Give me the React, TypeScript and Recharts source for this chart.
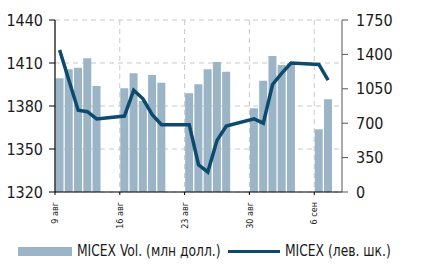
import { ComposedChart, Bar, Line, XAxis, YAxis, CartesianGrid } from "recharts";

const days = [
  "9 авг", "10 авг", "11 авг", "12 авг", "13 авг", "14 авг", "15 авг",
  "16 авг", "17 авг", "18 авг", "19 авг", "20 авг", "21 авг", "22 авг",
  "23 авг", "24 авг", "25 авг", "26 авг", "27 авг", "28 авг", "29 авг",
  "30 авг", "31 авг", "1 сен", "2 сен", "3 сен", "4 сен", "5 сен",
  "6 сен", "7 сен", "8 сен",
];

// объём торгов, млн долл. (правая шкала)
const volume = [
  1157, 1248, 1265, 1360, 1078, null, null,
  1055, 1208, 926, 1190, 1112, null, null,
  1004, 1096, 1248, 1323, 1224, null, null,
  852, 1133, 1384, 1292, 1309, null, null,
  638, 943, null,
];

// индекс ММВБ (левая шкала)
const micex = [
  1419, 1398, 1377, 1376, 1371, null, null,
  1373, 1391, 1385, 1374, 1367, null, null,
  1367, 1339, 1334, 1356, 1366, null, null,
  1371, 1368, 1395, 1403, 1410, null, null,
  1409, 1398, null,
];

const xTicks = ["9 авг", "16 авг", "23 авг", "30 авг", "6 сен"];
const leftTicks = [1320, 1350, 1380, 1410, 1440];
const rightTicks = [0, 350, 700, 1050, 1400, 1750];

const data = days.map((d, i) => ({ d, vol: volume[i], micex: micex[i] }));

const FONT = "'Liberation Sans Narrow', 'DejaVu Sans Condensed', 'Roboto Condensed', sans-serif";
const BAR = "#9bb5c7";
const LINE = "#0c4a6e";

function DayTick(props: any) {
  const { x, y, payload } = props;
  const half = payload && payload.offset != null ? payload.offset : 4.6;
  return (
    <g transform={`translate(${x - half},${y})`}>
      <line x1={0} x2={0} y1={0} y2={3} stroke="#000" strokeWidth={1} />
      <text
        transform="translate(0,10) rotate(-90)"
        textAnchor="end"
        dy="0.35em"
        fontSize={9}
        fontFamily={FONT}
        fill="#222"
      >
        {payload.value}
      </text>
    </g>
  );
}

const legendText: any = {
  position: "absolute",
  top: 243,
  fontFamily: FONT,
  fontSize: 16,
  lineHeight: "16px",
  color: "#1a1a1a",
  whiteSpace: "nowrap",
  transform: "scaleX(0.855)",
  transformOrigin: "left center",
};

export default function App() {
  return (
    <div style={{ position: "absolute", left: 0, top: 0, width: 434, height: 264, background: "#fff" }}>
      <ComposedChart
        width={434}
        height={264}
        data={data}
        margin={{ top: 20, right: 0, bottom: 37, left: 0 }}
        barCategoryGap={0.5}
      >
        <CartesianGrid
          yAxisId="left"
          stroke="#c8c8c8"
          strokeDasharray="5 4"
          verticalCoordinatesGenerator={({ xAxis, offset }: any) =>
            xTicks.slice(1).map((t) =>
              xAxis && typeof xAxis.scale === "function"
                ? xAxis.scale(t)
                : offset.left + (days.indexOf(t) * offset.width) / days.length
            )
          }
        />
        <XAxis
          dataKey="d"
          ticks={xTicks}
          interval={0}
          tickSize={0}
          tickMargin={0}
          tickLine={false}
          height={35}
          axisLine={{ stroke: "#000", strokeWidth: 1.2 }}
          tick={<DayTick />}
        />
        <YAxis
          yAxisId="left"
          orientation="left"
          width={55}
          domain={[1320, 1440]}
          ticks={leftTicks}
          interval={0}
          tickSize={6}
          tickMargin={6}
          axisLine={{ stroke: "#000", strokeWidth: 1.2 }}
          tickLine={{ stroke: "#000" }}
          tick={{ fontSize: 16, fontFamily: FONT, fill: "#1a1a1a" }}
        />
        <YAxis
          yAxisId="right"
          orientation="right"
          width={92}
          domain={[0, 1750]}
          ticks={rightTicks}
          interval={0}
          tickSize={6}
          tickMargin={8}
          axisLine={{ stroke: "#555" }}
          tickLine={{ stroke: "#555" }}
          tick={{ fontSize: 16, fontFamily: FONT, fill: "#1a1a1a", textAnchor: "start" }}
        />
        <Bar yAxisId="right" dataKey="vol" fill={BAR} isAnimationActive={false} />
        <Line
          yAxisId="left"
          dataKey="micex"
          stroke={LINE}
          strokeWidth={3.5}
          dot={false}
          activeDot={false}
          connectNulls
          strokeLinejoin="miter"
          isAnimationActive={false}
        />
      </ComposedChart>
      <div style={{ position: "absolute", left: 18, top: 247, width: 54, height: 9, background: BAR }} />
      <div style={{ ...legendText, left: 77 }}>MICEX Vol. (млн долл.)</div>
      <div style={{ position: "absolute", left: 228, top: 250, width: 52, height: 3, background: LINE }} />
      <div style={{ ...legendText, left: 285 }}>MICEX (лев. шк.)</div>
    </div>
  );
}
